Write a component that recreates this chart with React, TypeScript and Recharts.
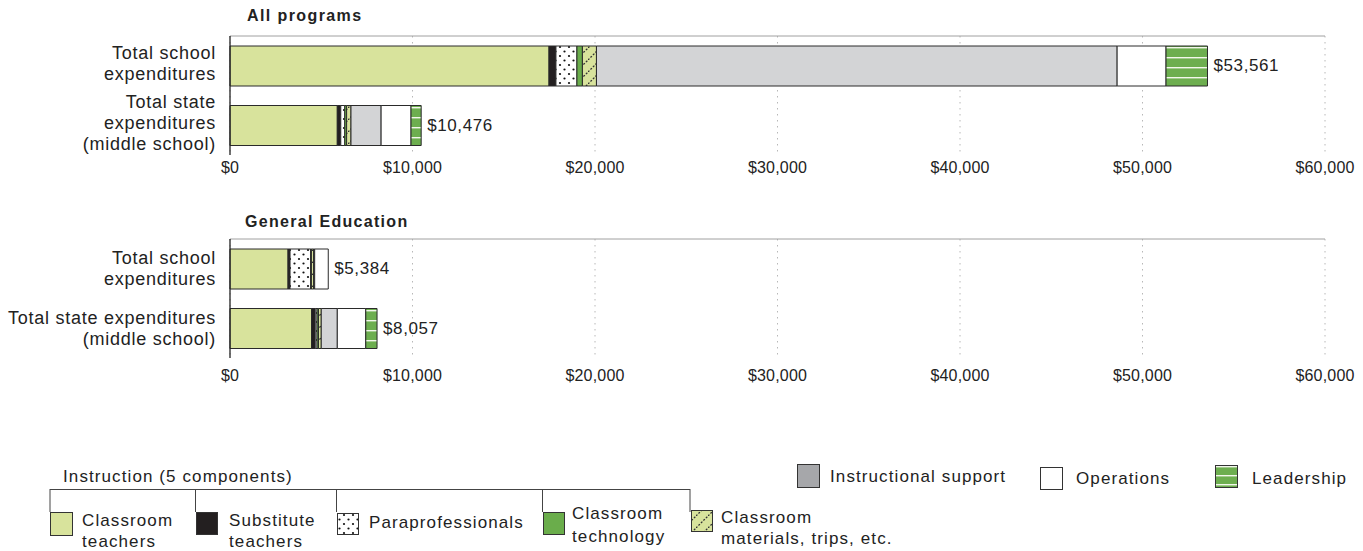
import React from "react";
import { BarChart, Bar, XAxis, YAxis, CartesianGrid, ReferenceDot } from "recharts";

// ---------- data ----------
const allProgramsLabels = ["Total school\nexpenditures", "Total state\nexpenditures\n(middle school)"];
const genEdLabels = ["Total school\nexpenditures", "Total state expenditures\n(middle school)"];
const xTicks = [0, 10000, 20000, 30000, 40000, 50000, 60000];

// All programs: [school, state]
const teachersAll = [17480, 5880];
const substituteAll = [380, 190];
const paraAll = [1150, 220];
const techAll = [300, 100];
const materialsAll = [770, 240];
const instrSupportAll = [28530, 1650];
const operationsAll = [2680, 1640];
const leadershipAll = [2271, 556];
const totalsAll = [53561, 10476];

// General Education: [school, state]
const teachersGen = [3180, 4470];
const substituteGen = [110, 200];
const paraGen = [1130, 100];
const techGen = [40, 80];
const materialsGen = [120, 150];
const instrSupportGen = [60, 880];
const operationsGen = [744, 1560];
const leadershipGen = [0, 617];
const totalsGen = [5384, 8057];

const seriesNames = [
  "Classroom teachers",
  "Substitute teachers",
  "Paraprofessionals",
  "Classroom technology",
  "Classroom materials, trips, etc.",
  "Instructional support",
  "Operations",
  "Leadership",
];

const SERIES = [
  { key: "teachers", fill: "#d8e39c" },
  { key: "substitute", fill: "#231f20" },
  { key: "para", fill: "url(#pat-dots)" },
  { key: "tech", fill: "#6aad4b" },
  { key: "materials", fill: "url(#pat-materials)" },
  { key: "instr", fill: "#d3d4d6" },
  { key: "ops", fill: "#ffffff" },
  { key: "lead", fill: "url(#pat-lead)" },
];

function buildRows(labels: string[], arrs: number[][], totals: number[]) {
  return labels.map((label, i) => {
    const row: any = { label, total: totals[i] };
    SERIES.forEach((s, j) => {
      row[s.key] = arrs[j][i];
    });
    return row;
  });
}

const allRows = buildRows(
  allProgramsLabels,
  [teachersAll, substituteAll, paraAll, techAll, materialsAll, instrSupportAll, operationsAll, leadershipAll],
  totalsAll
);
const genRows = buildRows(
  genEdLabels,
  [teachersGen, substituteGen, paraGen, techGen, materialsGen, instrSupportGen, operationsGen, leadershipGen],
  totalsGen
);

const FONT = "'Liberation Sans', Arial, Helvetica, sans-serif";
const fmt = (v: number) => "$" + v.toLocaleString("en-US");

function YTick(props: any) {
  const { x, y, payload, shift } = props;
  const lines = String(payload.value).split("\n");
  const lh = 21;
  const start = y + (shift || 0) - ((lines.length - 1) * lh) / 2;
  return (
    <text x={x - 6} y={start} textAnchor="end" fontSize={18} fill="#222" letterSpacing={0.75} dominantBaseline="central">
      {lines.map((l, i) => (
        <tspan key={i} x={x - 6} y={start + i * lh}>
          {l}
        </tspan>
      ))}
    </text>
  );
}

function XTick(props: any) {
  const { x, y, payload, extra } = props;
  return (
    <text x={x} y={y + (extra || 0) - 1} dy="0.71em" textAnchor="middle" fontSize={16} fill="#222" letterSpacing={0.2}>
      {fmt(payload.value)}
    </text>
  );
}

function ValueLabel(props: any) {
  const { viewBox, value } = props;
  return (
    <text
      x={viewBox.x + viewBox.width + 6}
      y={viewBox.y + viewBox.height / 2}
      fontSize={17}
      fill="#222"
      letterSpacing={0.6}
      dominantBaseline="central"
    >
      {fmt(value)}
    </text>
  );
}

function Panel({ rows, top, tickExtra, labelShift }: { rows: any[]; top: number; tickExtra: number; labelShift: number }) {
  return (
    <div style={{ position: "absolute", left: 0, top }}>
      <BarChart
        width={1363}
        height={185}
        data={rows}
        layout="vertical"
        margin={{ top: 35, right: 38, bottom: 0, left: 0 }}
        barSize={40}
      >
        <CartesianGrid horizontal={false} vertical stroke="#b8b8b8" strokeDasharray="1.5 4.5" />
        <XAxis
          type="number"
          domain={[0, 60000]}
          ticks={xTicks}
          interval={0}
          axisLine={false}
          tickLine={false}
          height={30}
          tick={<XTick extra={tickExtra} />}
        />
        <XAxis
          xAxisId="top"
          orientation="top"
          type="number"
          domain={[0, 60000]}
          tick={false}
          tickLine={false}
          height={1}
          axisLine={{ stroke: "#a0a0a0" }}
        />
        <YAxis
          type="category"
          dataKey="label"
          width={230}
          axisLine={{ stroke: "#222", strokeWidth: 1.3 }}
          tickLine={false}
          tick={<YTick shift={labelShift} />}
        />
        {SERIES.map((s, i) => (
          <Bar
            key={s.key}
            dataKey={s.key}
            name={seriesNames[i]}
            stackId="a"
            fill={s.fill}
            stroke="#2a2a2a"
            strokeWidth={1}
            isAnimationActive={false}
          />
        ))}
        {rows.map((r) => (
          <ReferenceDot
            key={r.label}
            x={r.total}
            y={r.label}
            r={0}
            fill="none"
            stroke="none"
            ifOverflow="visible"
            label={<ValueLabel value={r.total} />}
          />
        ))}
      </BarChart>
    </div>
  );
}

function Patterns() {
  return (
    <svg width={0} height={0} style={{ position: "absolute" }}>
      <defs>
        <pattern id="pat-dots" patternUnits="userSpaceOnUse" width={9} height={9}>
          <rect width={9} height={9} fill="#ffffff" />
          <circle cx={2} cy={2} r={1.1} fill="#111" />
          <circle cx={6.5} cy={6.5} r={1.1} fill="#111" />
        </pattern>
        <pattern id="pat-materials" patternUnits="userSpaceOnUse" width={12} height={12}>
          <rect width={12} height={12} fill="#d8e39c" />
          <line x1={0} y1={12} x2={12} y2={0} stroke="#333" strokeWidth={1.3} strokeDasharray="2 1.5" />
        </pattern>
        <pattern id="pat-lead" patternUnits="userSpaceOnUse" width={10} height={10} y={2}>
          <rect width={10} height={10} fill="#6dae4f" />
          <rect y={5} width={10} height={1.4} fill="#f2f7ea" />
        </pattern>
        <pattern id="pat-lead-legend" patternUnits="userSpaceOnUse" width={30} height={9} y={1}>
          <rect width={30} height={9} fill="#6dae4f" />
          <rect y={6} width={30} height={1.4} fill="#f2f7ea" />
        </pattern>
      </defs>
    </svg>
  );
}

function Legend() {
  const txt = { fontSize: 17, fill: "#222", letterSpacing: 1.1 } as any;
  const box = { stroke: "#333", strokeWidth: 1 };
  return (
    <svg width={1363} height={551} style={{ position: "absolute", left: 0, top: 0, pointerEvents: "none" }}>
      <text x={63} y={482} {...txt}>Instruction (5 components)</text>
      <line x1={50} y1={489.5} x2={690} y2={489.5} stroke="#444" />
      {[50, 195.5, 336.5, 542.5, 690].map((x) => (
        <line key={x} x1={x} y1={489} x2={x} y2={512} stroke="#444" />
      ))}
      <rect x={50.5} y={512.5} width={22} height={23} fill="#d8e39c" {...box} />
      <text x={82} y={526} {...txt}>Classroom</text>
      <text x={82} y={547} {...txt}>teachers</text>

      <rect x={196.5} y={512.5} width={21} height={22} fill="#231f20" {...box} />
      <text x={229} y={526} {...txt}>Substitute</text>
      <text x={229} y={547} {...txt}>teachers</text>

      <rect x={337.5} y={513.5} width={21} height={21} fill="url(#pat-dots)" {...box} />
      <text x={369} y={528} {...txt}>{seriesNames[2]}</text>

      <rect x={543.5} y={512.5} width={21} height={22} fill="#6aad4b" {...box} />
      <text x={572} y={519} {...txt}>Classroom</text>
      <text x={572} y={542} {...txt}>technology</text>

      <rect x={691.5} y={510.5} width={21} height={21} fill="url(#pat-materials)" {...box} />
      <text x={721} y={523} {...txt}>Classroom</text>
      <text x={721} y={544} {...txt}>materials, trips, etc.</text>

      <rect x={797.5} y={464.5} width={22} height={23} fill="#a6a7aa" {...box} />
      <text x={830} y={482} {...txt}>{seriesNames[5]}</text>

      <rect x={1040.5} y={467.5} width={22} height={22} fill="#ffffff" {...box} />
      <text x={1076} y={484} {...txt}>{seriesNames[6]}</text>

      <rect x={1215.5} y={465.5} width={22} height={22} fill="url(#pat-lead-legend)" {...box} />
      <text x={1252} y={484} {...txt}>{seriesNames[7]}</text>
    </svg>
  );
}

export default function App() {
  return (
    <div
      style={{
        position: "absolute",
        left: 0,
        top: 0,
        width: 1363,
        height: 551,
        background: "#fff",
        fontFamily: FONT,
        color: "#222",
      }}
    >
      <Patterns />
      <div style={{ position: "absolute", left: 247, top: 6, fontSize: 16, fontWeight: "bold", letterSpacing: 1.4, lineHeight: "20px" }}>
        All programs
      </div>
      <Panel rows={allRows} top={0} tickExtra={0} labelShift={-2} />
      <div style={{ position: "absolute", left: 245, top: 212, fontSize: 16, fontWeight: "bold", letterSpacing: 1.3, lineHeight: "20px" }}>
        General Education
      </div>
      <Panel rows={genRows} top={203} tickExtra={5} labelShift={0} />
      <Legend />
    </div>
  );
}
